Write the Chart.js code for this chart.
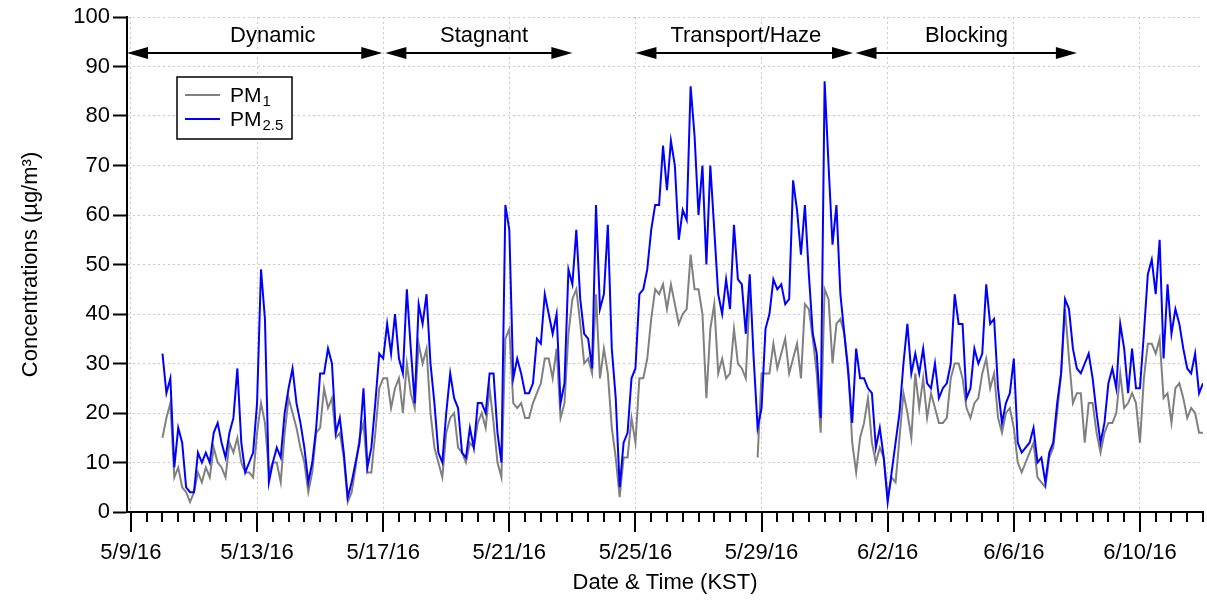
<!DOCTYPE html>
<html>
<head>
<meta charset="utf-8">
<title>PM1 / PM2.5</title>
<script src="https://cdn.jsdelivr.net/npm/chart.js@4.4.0/dist/chart.umd.min.js"></script>
<style>
  html, body { margin: 0; padding: 0; background: #fff; }
  canvas { display: block; }
</style>
</head>
<body>
<canvas id="pmChart" width="1207" height="601"></canvas>
<script>
// PM series, one value every 3 h from 5/10/16 00:00 KST (one row per day)
var firstDay = 1;       // days after 5/9/16 00:00
var stepDays = 0.125;   // 3 hours

var pm1 = [
  15, 19, 22, 7, 9, 5, 4, 2,
  4, 8, 6, 9, 7, 13, 10, 9,
  7, 14, 12, 15, 10, 8, 8, 7,
  16, 22, 18, 8, 10, 10, 6, 16,
  23, 20, 17, 13, 10, 4, 8, 16,
  17, 25, 21, 23, 15, 16, 11, 2,
  4, 9, 15, 18, 8, 8, 16, 25,
  27, 27, 21, 25, 27, 20, 30, 24,
  21, 34, 30, 33, 20, 13, 10, 7,
  16, 19, 20, 13, 12, 10, 14, 13,
  18, 20, 17, 25, 18, 10, 7, 35,
  37, 22, 21, 22, 19, 19, 22, 24,
  26, 31, 31, 27, 33, 19, 22, 36,
  43, 45, 38, 30, 31, 28, 44, 27,
  33, 28, 17, 11, 3, 11, 11, 19,
  14, 27, 27, 31, 39, 45, 44, 46,
  41, 46, 42, 38, 40, 41, 52, 45,
  45, 40, 23, 37, 42, 28, 31, 27,
  28, 37, 30, 29, 27, 44, null, 11,
  28, 28, 28, 34, 29, 32, 35, 28,
  31, 34, 27, 42, 41, 35, 28, 16,
  45, 43, 30, 38, 39, 36, 29, 14,
  8, 15, 18, 23, 14, 10, 13, 11,
  3, 7, 6, 15, 24, 20, 15, 28,
  21, 27, 19, 24, 21, 18, 18, 19,
  27, 30, 30, 27, 21, 19, 22, 23,
  28, 31, 25, 28, 19, 16, 20, 21,
  17, 10, 8, 10, 12, 14, 7, 6,
  5, 11, 13, 20, 28, 41, 31, 22,
  24, 24, 14, 22, 22, 16, 12, 16,
  18, 18, 20, 28, 21, 22, 24, 22,
  14, 27, 34, 34, 32, 35, 23, 24,
  18, 25, 26, 23, 19, 21, 20, 16,
  16
];

var pm25 = [
  32, 24, 27, 9, 17, 14, 5, 4,
  4, 12, 10, 12, 10, 16, 18, 14,
  11, 16, 19, 29, 14, 8, 10, 12,
  22, 49, 39, 6, 10, 13, 11, 20,
  25, 29, 22, 18, 13, 6, 10, 17,
  28, 28, 33, 30, 16, 19, 12, 3,
  6, 10, 14, 25, 9, 13, 22, 32,
  31, 38, 32, 40, 31, 28, 45, 33,
  22, 42, 38, 44, 30, 22, 12, 10,
  20, 28, 23, 21, 12, 11, 17, 13,
  22, 22, 20, 28, 28, 16, 10, 62,
  57, 27, 31, 28, 24, 24, 26, 35,
  34, 44, 40, 36, 40, 22, 26, 49,
  46, 57, 43, 36, 35, 29, 62, 41,
  44, 58, 33, 23, 5, 14, 16, 27,
  29, 44, 45, 49, 57, 62, 62, 74,
  65, 75, 70, 55, 61, 59, 86, 76,
  60, 70, 50, 70, 57, 44, 40, 47,
  41, 58, 47, 46, 36, 48, 31, 17,
  21, 37, 40, 47, 45, 46, 42, 43,
  67, 61, 52, 62, 48, 36, 32, 19,
  87, 70, 54, 62, 44, 36, 28, 18,
  33, 27, 27, 25, 24, 13, 17, 11,
  2, 8, 14, 20, 30, 38, 28, 32,
  28, 33, 26, 25, 30, 23, 25, 26,
  30, 44, 38, 38, 23, 25, 33, 30,
  32, 46, 38, 39, 25, 18, 22, 24,
  31, 14, 12, 13, 14, 17, 10, 11,
  6, 12, 14, 22, 28, 43, 41, 33,
  29, 28, 30, 32, 27, 20, 14, 18,
  26, 29, 25, 38, 33, 24, 33, 25,
  25, 36, 48, 51, 44, 55, 31, 46,
  36, 41, 38, 33, 29, 28, 32, 24,
  26
];

// x axis, in days after 5/9/16 00:00
var xMin = -0.125;
var xMax = 34;
var xTickDays = [0, 4, 8, 12, 16, 20, 24, 28, 32];
var xTickLabels = ['5/9/16', '5/13/16', '5/17/16', '5/21/16', '5/25/16', '5/29/16', '6/2/16', '6/6/16', '6/10/16'];

// meteorological periods shown as arrows above the data
var periodNames = ['Dynamic', 'Stagnant', 'Transport/Haze', 'Blocking'];
var periodStart = [-0.125, 8.07, 16, 22.98];
var periodEnd = [7.97, 14, 22.9, 30];
var periodLabelDay = [4.5, 11.2, 19.5, 26.5];
var arrowLevel = 92.8;

var FONT = '"Liberation Sans", Arial, Helvetica, sans-serif';
Chart.defaults.font.family = FONT;
Chart.defaults.font.size = 22;
Chart.defaults.color = '#000';

function toPoints(values) {
  return values.map(function (v, i) {
    return { x: firstDay + i * stepDays, y: v };
  });
}

function arrowHead(ctx, tipX, y, dir) {
  ctx.beginPath();
  ctx.moveTo(tipX, y);
  ctx.lineTo(tipX - dir * 21, y - 6);
  ctx.lineTo(tipX - dir * 21, y + 6);
  ctx.closePath();
  ctx.fill();
}

var decorations = {
  id: 'decorations',
  afterDraw: function (chart) {
    var ctx = chart.ctx;
    var xs = chart.scales.x;
    var ys = chart.scales.y;
    var base = chart.chartArea.bottom;
    ctx.save();

    // x tick marks: long every 4 days, short every 12 hours
    ctx.strokeStyle = '#000';
    ctx.lineWidth = 2;
    for (var h = 0; h <= xMax * 24; h += 12) {
      var px = Math.round(xs.getPixelForValue(h / 24));
      var len = (h % 96 === 0) ? 20 : 10;
      ctx.beginPath();
      ctx.moveTo(px, base);
      ctx.lineTo(px, base + len);
      ctx.stroke();
    }

    // period arrows
    var ay = Math.round(ys.getPixelForValue(arrowLevel));
    ctx.fillStyle = '#000';
    ctx.font = '22px ' + FONT;
    ctx.textAlign = 'center';
    ctx.textBaseline = 'middle';
    for (var i = 0; i < periodNames.length; i++) {
      var x1 = xs.getPixelForValue(periodStart[i]);
      var x2 = xs.getPixelForValue(periodEnd[i]);
      ctx.beginPath();
      ctx.moveTo(x1 + 10, ay);
      ctx.lineTo(x2 - 10, ay);
      ctx.stroke();
      arrowHead(ctx, x1, ay, -1);
      arrowHead(ctx, x2, ay, 1);
      ctx.fillText(periodNames[i], xs.getPixelForValue(periodLabelDay[i]), ay - 17);
    }

    // legend box with subscripted names
    var bx = chart.chartArea.left + 50;
    var by = chart.chartArea.top + 60;
    ctx.fillStyle = '#fff';
    ctx.fillRect(bx, by, 115, 62);
    ctx.lineWidth = 1.5;
    ctx.strokeRect(bx, by, 115, 62);
    var rows = [
      { color: '#808080', sub: '1', y: by + 18 },
      { color: '#0000ff', sub: '2.5', y: by + 42 }
    ];
    rows.forEach(function (r) {
      ctx.strokeStyle = r.color;
      ctx.lineWidth = 2;
      ctx.beginPath();
      ctx.moveTo(bx + 8, r.y);
      ctx.lineTo(bx + 43, r.y);
      ctx.stroke();
      ctx.fillStyle = '#000';
      ctx.textAlign = 'left';
      ctx.textBaseline = 'alphabetic';
      ctx.font = '21px ' + FONT;
      ctx.fillText('PM', bx + 53, r.y + 7);
      var w = ctx.measureText('PM').width;
      ctx.font = '15px ' + FONT;
      ctx.fillText(r.sub, bx + 53 + w + 1, r.y + 11);
    });

    ctx.restore();
  }
};

new Chart(document.getElementById('pmChart').getContext('2d'), {
  type: 'line',
  data: {
    datasets: [{
      label: 'PM1',
      data: toPoints(pm1),
      borderColor: '#808080',
      borderWidth: 2,
      order: 1
    }, {
      label: 'PM2.5',
      data: toPoints(pm25),
      borderColor: '#0000ff',
      borderWidth: 2,
      order: 0
    }]
  },
  options: {
    responsive: false,
    animation: false,
    parsing: false,
    spanGaps: false,
    elements: {
      point: { radius: 0 },
      line: { tension: 0, fill: false }
    },
    layout: { padding: { top: 17, right: 4, left: 0, bottom: 0 } },
    plugins: {
      legend: { display: false },
      tooltip: { enabled: false }
    },
    scales: {
      x: {
        type: 'linear',
        min: xMin,
        max: xMax,
        afterBuildTicks: function (scale) {
          scale.ticks = xTickDays.map(function (d) { return { value: d }; });
        },
        afterFit: function (scale) { scale.height = 89; },
        ticks: {
          autoSkip: false,
          maxRotation: 0,
          padding: 28,
          callback: function (value) {
            var i = xTickDays.indexOf(value);
            return i >= 0 ? xTickLabels[i] : '';
          }
        },
        grid: { color: '#c8c8c8', lineWidth: 1, drawTicks: false },
        border: { color: '#000', width: 2, dash: [2, 3] },
        title: { display: true, text: 'Date & Time (KST)', padding: { top: 0, bottom: 5 } }
      },
      y: {
        min: 0,
        max: 100,
        afterFit: function (scale) { scale.width = 127; },
        ticks: { stepSize: 10, padding: 3 },
        grid: { color: '#c8c8c8', lineWidth: 1, tickColor: '#000', tickLength: 14, tickWidth: 2 },
        border: { color: '#000', width: 2, dash: [2, 3] },
        title: { display: true, text: 'Concentrations (µg/m³)', padding: { top: 18, bottom: 0 } }
      }
    }
  },
  plugins: [decorations]
});
</script>
</body>
</html>
